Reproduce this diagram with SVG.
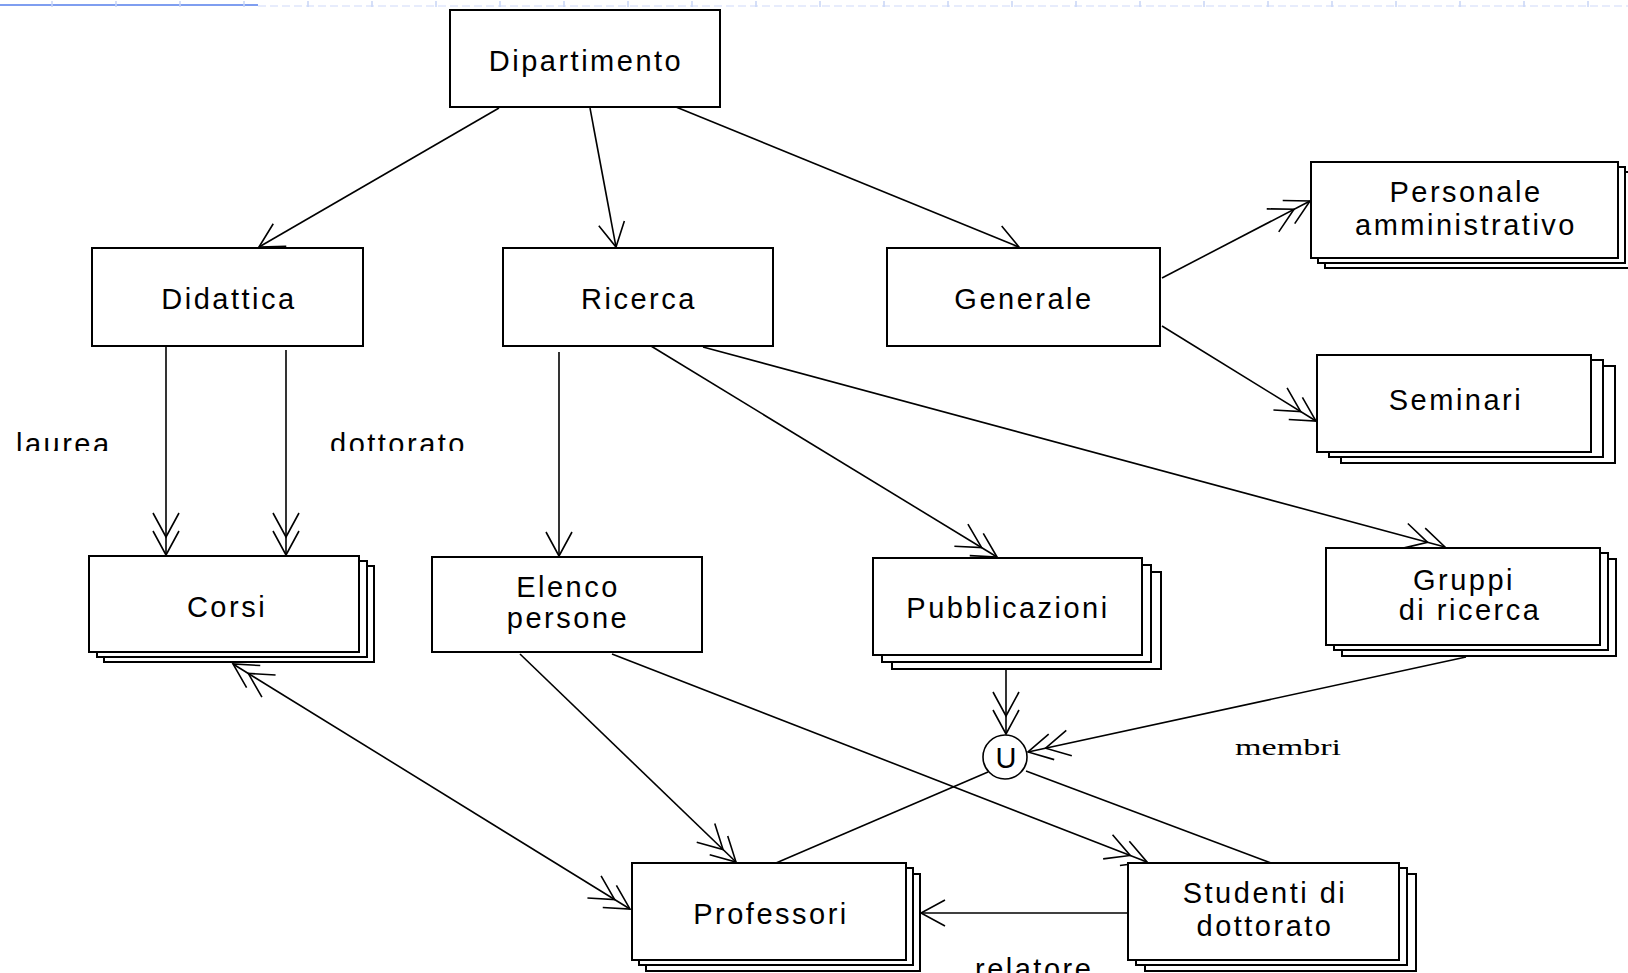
<svg xmlns="http://www.w3.org/2000/svg" width="1628" height="973" viewBox="0 0 1628 973">
<style>
.box{fill:#fff;stroke:#000;stroke-width:2}
.t{font-family:"Liberation Sans",Arial,sans-serif;font-size:29px;letter-spacing:2.5px;text-anchor:middle;fill:#000}
.lbl{font-family:"Liberation Sans",Arial,sans-serif;font-size:29px;letter-spacing:2.5px;fill:#000}
.c{fill:none;stroke:#000;stroke-width:1.6}
.tick{stroke:#c8d5f6;stroke-width:1.5}
</style>
<defs>
<marker id="a1" markerUnits="userSpaceOnUse" orient="auto" overflow="visible" markerWidth="1" markerHeight="1" refX="0" refY="0">
<path d="M-24,-13 L0,0 L-24,13" fill="none" stroke="#000" stroke-width="1.6"/>
</marker>
<marker id="a2" markerUnits="userSpaceOnUse" orient="auto-start-reverse" overflow="visible" markerWidth="1" markerHeight="1" refX="0" refY="0">
<path d="M-24,-13 L0,0 L-24,13 M-42,-13 L-18,0 L-42,13" fill="none" stroke="#000" stroke-width="1.6"/>
</marker>
<clipPath id="cut"><rect x="0" y="0" width="1628" height="451"/></clipPath>
</defs>
<rect width="1628" height="973" fill="#fff"/>
<g id="topbar">
<line x1="258" y1="6" x2="1628" y2="6" stroke="#dfe6fb" stroke-width="1.5" stroke-dasharray="8 4"/>
<line x1="0" y1="5" x2="258" y2="5" stroke="#7f9ef0" stroke-width="2.2"/>
<path class="tick" d="M52,1V7M116,1V7M180,1V7M244,1V7M308,1V7M372,1V7M436,1V7M500,1V7M564,1V7M628,1V7M692,1V7M756,1V7M820,1V7M884,1V7M948,1V7M1012,1V7M1076,1V7M1140,1V7M1204,1V7M1268,1V7M1332,1V7M1396,1V7M1460,1V7M1524,1V7M1588,1V7"/>
</g>
<g id="connectors">
<line class="c" x1="499" y1="108" x2="259" y2="247" marker-end="url(#a1)"/>
<line class="c" x1="590" y1="108" x2="616" y2="247" marker-end="url(#a1)"/>
<line class="c" x1="676" y1="107" x2="1019" y2="247" marker-end="url(#a1)"/>
<line class="c" x1="166" y1="346" x2="166" y2="555" marker-end="url(#a2)"/>
<line class="c" x1="286" y1="350" x2="286" y2="555" marker-end="url(#a2)"/>
<line class="c" x1="559" y1="352" x2="559" y2="556" marker-end="url(#a1)"/>
<line class="c" x1="651" y1="346" x2="997" y2="557" marker-end="url(#a2)"/>
<line class="c" x1="703" y1="347" x2="1445" y2="547" marker-end="url(#a2)"/>
<line class="c" x1="1162" y1="278" x2="1310" y2="201" marker-end="url(#a2)"/>
<line class="c" x1="1162" y1="326" x2="1316" y2="421" marker-end="url(#a2)"/>
<line class="c" x1="1006" y1="656" x2="1006" y2="734" marker-end="url(#a2)"/>
<line class="c" x1="1466" y1="657" x2="1028" y2="752" marker-end="url(#a2)"/>
<line class="c" x1="988" y1="772" x2="776" y2="863"/>
<line class="c" x1="1026" y1="771" x2="1271" y2="863"/>
<line class="c" x1="520" y1="654" x2="736" y2="862" marker-end="url(#a2)"/>
<line class="c" x1="612" y1="654" x2="1147" y2="862" marker-end="url(#a2)"/>
<line class="c" x1="233" y1="664" x2="630" y2="909" marker-start="url(#a2)" marker-end="url(#a2)"/>
<line class="c" x1="1128" y1="913" x2="921" y2="913" marker-end="url(#a1)"/>
</g>
<g id="n_dipartimento">
<rect class="box" x="450" y="10" width="270" height="97"/>
<text class="t" x="586" y="71">Dipartimento</text>
</g>
<g id="n_didattica">
<rect class="box" x="92" y="248" width="271" height="98"/>
<text class="t" x="229" y="309">Didattica</text>
</g>
<g id="n_ricerca">
<rect class="box" x="503" y="248" width="270" height="98"/>
<text class="t" x="639" y="309">Ricerca</text>
</g>
<g id="n_generale">
<rect class="box" x="887" y="248" width="273" height="98"/>
<text class="t" x="1024" y="309">Generale</text>
</g>
<g id="n_personale">
<rect class="box" x="1325" y="172" width="307" height="96"/>
<rect class="box" x="1318" y="167" width="307" height="96"/>
<rect class="box" x="1311" y="162" width="307" height="96"/>
<text class="t" x="1466" y="202">Personale</text>
<text class="t" x="1466" y="235">amministrativo</text>
</g>
<g id="n_seminari">
<rect class="box" x="1341" y="366" width="274" height="97"/>
<rect class="box" x="1329" y="360" width="274" height="97"/>
<rect class="box" x="1317" y="355" width="274" height="97"/>
<text class="t" x="1456" y="410">Seminari</text>
</g>
<g id="n_corsi">
<rect class="box" x="104" y="566" width="270" height="96"/>
<rect class="box" x="97" y="561" width="270" height="96"/>
<rect class="box" x="89" y="556" width="270" height="96"/>
<text class="t" x="227" y="617">Corsi</text>
</g>
<g id="n_elenco">
<rect class="box" x="432" y="557" width="270" height="95"/>
<text class="t" x="568" y="597">Elenco</text>
<text class="t" x="568" y="628">persone</text>
</g>
<g id="n_pubblicazioni">
<rect class="box" x="892" y="572" width="269" height="97"/>
<rect class="box" x="882" y="565" width="269" height="97"/>
<rect class="box" x="873" y="558" width="269" height="97"/>
<text class="t" x="1008" y="618">Pubblicazioni</text>
</g>
<g id="n_gruppi">
<rect class="box" x="1342" y="559" width="274" height="97"/>
<rect class="box" x="1334" y="553" width="274" height="97"/>
<rect class="box" x="1326" y="548" width="274" height="97"/>
<text class="t" x="1464" y="590">Gruppi</text>
<text class="t" x="1470" y="620">di ricerca</text>
</g>
<g id="n_professori">
<rect class="box" x="646" y="874" width="274" height="97"/>
<rect class="box" x="639" y="868" width="274" height="97"/>
<rect class="box" x="632" y="863" width="274" height="97"/>
<text class="t" x="771" y="924">Professori</text>
</g>
<g id="n_studenti">
<rect class="box" x="1145" y="874" width="271" height="97"/>
<rect class="box" x="1136" y="868" width="271" height="97"/>
<rect class="box" x="1128" y="863" width="271" height="97"/>
<text class="t" x="1265" y="903">Studenti di</text>
<text class="t" x="1265" y="936">dottorato</text>
</g>
<g id="n_union">
<circle cx="1005" cy="757" r="22" fill="#fff" stroke="#000" stroke-width="1.6"/>
<text class="t" x="1006" y="768" style="letter-spacing:0">U</text>
</g>
<g id="labels">
<text class="lbl" x="16" y="454" clip-path="url(#cut)">laurea</text>
<text class="lbl" x="330" y="454" clip-path="url(#cut)">dottorato</text>
<text x="1235" y="755" font-family="'Liberation Serif','Times New Roman',serif" font-size="24" textLength="106" lengthAdjust="spacingAndGlyphs">membri</text>
<text class="lbl" x="975" y="979">relatore</text>
</g>
</svg>
